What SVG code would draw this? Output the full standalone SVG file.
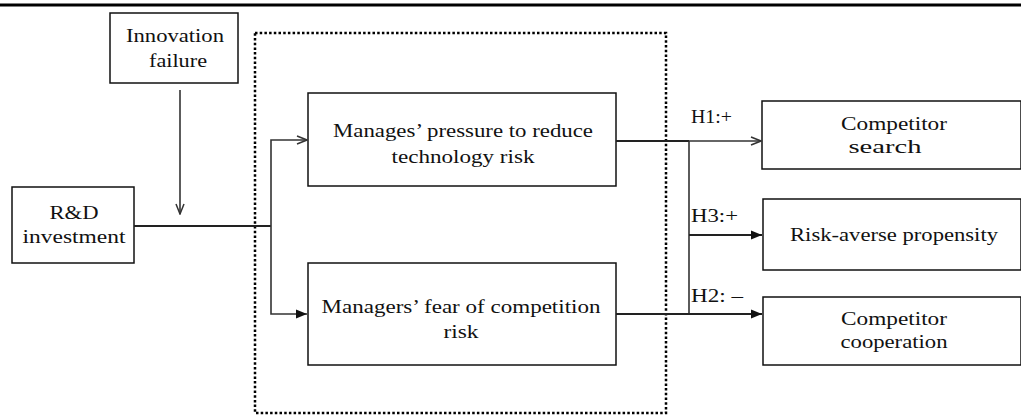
<svg xmlns="http://www.w3.org/2000/svg" width="1021" height="419" viewBox="0 0 1021 419">
<style>
.box{fill:#fff;stroke:#111;stroke-width:1.5}
.t{font-family:"Liberation Serif","DejaVu Serif","Times New Roman",serif;font-size:19px;fill:#111;text-anchor:middle}
.h{font-family:"Liberation Serif","DejaVu Serif","Times New Roman",serif;font-size:19px;fill:#111}
.c{fill:none;stroke:#333;stroke-width:1.6}
.m{fill:none;stroke:#222;stroke-width:2}
</style>
<defs>
<marker id="open" markerWidth="12" markerHeight="10" refX="11" refY="5" orient="auto" markerUnits="userSpaceOnUse">
<path d="M1,1 L11,5 L1,9" fill="none" stroke="#333" stroke-width="1.5"/>
</marker>
<marker id="fill" markerWidth="12" markerHeight="10" refX="11" refY="5" orient="auto" markerUnits="userSpaceOnUse">
<path d="M0,0.5 L11,5 L0,9.5 Z" fill="#111"/>
</marker>
</defs>
<rect width="1021" height="419" fill="#fff"/>
<line x1="0" y1="5" x2="1021" y2="5" stroke="#000" stroke-width="3"/>
<rect x="255" y="33" width="411" height="380" fill="none" stroke="#000" stroke-width="2.5" stroke-dasharray="2.5 2.2"/>
<g id="innovation">
<rect class="box" x="110" y="13" width="128" height="70"/>
<text class="t" x="175" y="42" textLength="98" lengthAdjust="spacingAndGlyphs">Innovation</text>
<text class="t" x="178" y="67" textLength="58" lengthAdjust="spacingAndGlyphs">failure</text>
</g>
<g id="rd">
<rect class="box" x="12" y="187" width="122" height="76"/>
<text class="t" x="74" y="219" textLength="49" lengthAdjust="spacingAndGlyphs">R&amp;D</text>
<text class="t" x="74" y="243" textLength="103" lengthAdjust="spacingAndGlyphs">investment</text>
</g>
<g id="pressure">
<rect class="box" x="308" y="93" width="308" height="93"/>
<text class="t" x="463" y="137" textLength="260" lengthAdjust="spacingAndGlyphs">Manages’ pressure to reduce</text>
<text class="t" x="463" y="163" textLength="143" lengthAdjust="spacingAndGlyphs">technology risk</text>
</g>
<g id="fear">
<rect class="box" x="308" y="263" width="308" height="102"/>
<text class="t" x="461" y="313" textLength="279" lengthAdjust="spacingAndGlyphs">Managers’ fear of competition</text>
<text class="t" x="461" y="338" textLength="35" lengthAdjust="spacingAndGlyphs">risk</text>
</g>
<g id="search">
<rect class="box" x="762" y="101" width="259" height="68"/>
<text class="t" x="894" y="130" textLength="106" lengthAdjust="spacingAndGlyphs">Competitor</text>
<text class="t" x="885" y="153" textLength="73" lengthAdjust="spacingAndGlyphs">search</text>
</g>
<g id="riskaverse">
<rect class="box" x="763" y="199" width="258" height="71"/>
<text class="t" x="894" y="241" textLength="208" lengthAdjust="spacingAndGlyphs">Risk-averse propensity</text>
</g>
<g id="cooperation">
<rect class="box" x="763" y="297" width="258" height="68"/>
<text class="t" x="894" y="325" textLength="106" lengthAdjust="spacingAndGlyphs">Competitor</text>
<text class="t" x="894" y="348" textLength="107" lengthAdjust="spacingAndGlyphs">cooperation</text>
</g>
<g id="connectors">
<line class="c" x1="180" y1="90" x2="180" y2="214" marker-end="url(#open)"/>
<line class="m" x1="134" y1="226" x2="271" y2="226"/>
<polyline class="c" points="271,226 271,140 307,140" marker-end="url(#open)"/>
<polyline class="c" points="271,226 271,314 307,314" marker-end="url(#fill)"/>
<line class="m" x1="616" y1="141" x2="689" y2="141"/>
<line class="c" x1="689" y1="141" x2="761" y2="141" marker-end="url(#open)"/>
<line class="c" x1="689" y1="141" x2="689" y2="314"/>
<line class="m" x1="689" y1="235" x2="762" y2="235" marker-end="url(#fill)"/>
<line class="m" x1="616" y1="314" x2="762" y2="314" marker-end="url(#fill)"/>
<text class="h" x="691" y="123" textLength="41" lengthAdjust="spacingAndGlyphs">H1:+</text>
<text class="h" x="691" y="222" textLength="47" lengthAdjust="spacingAndGlyphs">H3:+</text>
<text class="h" x="691" y="302" textLength="52" lengthAdjust="spacingAndGlyphs">H2: –</text>
</g>
</svg>
